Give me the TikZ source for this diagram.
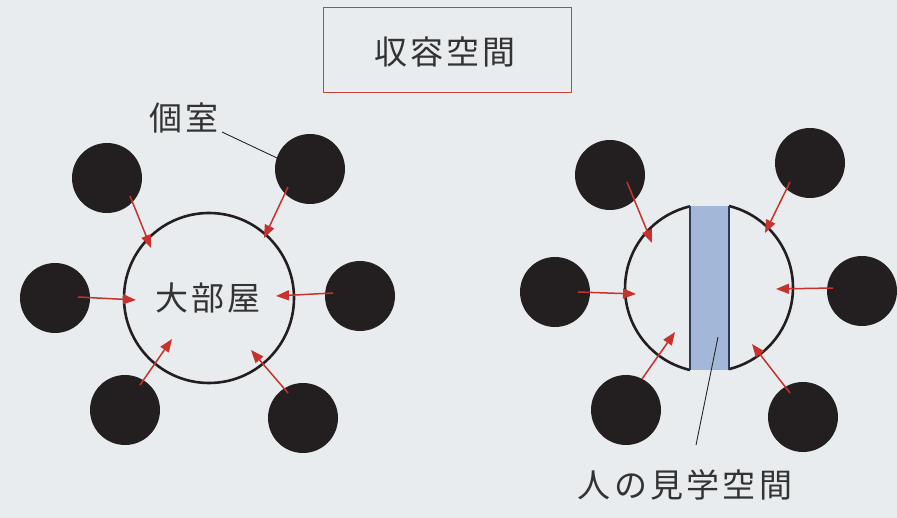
\documentclass[tikz,border=0pt]{standalone}
\usepackage{fontspec}
\newfontfamily\jpfont[LetterSpace=10]{Noto Sans CJK JP}
\usetikzlibrary{arrows.meta}
\definecolor{bg}{HTML}{E8ECEE}
\definecolor{dot}{HTML}{231F20}
\definecolor{arr}{HTML}{C8322C}
\definecolor{frame}{HTML}{C8403A}
\definecolor{band}{HTML}{A3B8D8}
\definecolor{bandedge}{HTML}{2A3A5A}
\begin{document}
\begin{tikzpicture}[x=1pt,y=-1pt,
  room/.style={circle,fill=dot,draw=none,minimum size=70pt,inner sep=0pt},
  push/.style={draw=arr,line width=1.5pt,-{Triangle[length=13pt,width=10pt]}},
  lbl/.style={font=\jpfont\fontsize{33}{36}\selectfont,text=black!80,inner sep=0pt},
  leader/.style={draw=black!85,line width=0.9pt}]
\useasboundingbox[fill=bg] (0,0) rectangle (897,518);
% title
\node[draw=frame,line width=1pt,minimum width=248pt,minimum height=85pt] (title) at (447,50.5) {};
\node[lbl] (ttext) at (445,52) {収容空間};
% left group
\draw[dot,line width=2.6pt] (209,298) circle[radius=85];
\node[lbl] (big) at (208,298) {大部屋};
\node[room] (a1) at (107,178) {};
\node[room] (a2) at (310,169) {};
\node[room] (a3) at (55,298) {};
\node[room] (a4) at (360,296) {};
\node[room] (a5) at (125,410) {};
\node[room] (a6) at (303,418) {};
\coordinate (as1) at (130,196); \coordinate (at1) at (151,248);
\coordinate (as2) at (288,187); \coordinate (at2) at (264,238);
\coordinate (as3) at (78,297);  \coordinate (at3) at (136,300);
\coordinate (as4) at (333,293); \coordinate (at4) at (276,296);
\coordinate (as5) at (140,385); \coordinate (at5) at (172,339);
\coordinate (as6) at (288,393); \coordinate (at6) at (251,350);
\foreach \i in {1,...,6} \draw[push] (as\i) -- (at\i);
\node[lbl] (kosh) at (184,118) {個室};
\coordinate (kl) at (277,158);
\draw[leader] (222,132) -- (kl);
% right group
\fill[band] (690,206) rectangle (729,370);
\draw[dot,line width=2.6pt] (690,370) arc[start angle=103.1,end angle=256.9,radius=84];
\draw[dot,line width=2.6pt] (729,206) arc[start angle=-76.2,end angle=76.2,radius=84];
\draw[bandedge,line width=2pt] (690,206) -- (690,370);
\draw[bandedge,line width=2pt] (729,206) -- (729,370);
\node[room] (b1) at (610,175) {};
\node[room] (b2) at (810,163) {};
\node[room] (b3) at (555,292) {};
\node[room] (b4) at (862,291) {};
\node[room] (b5) at (626,410) {};
\node[room] (b6) at (803,417) {};
\coordinate (bs1) at (627,182); \coordinate (bt1) at (652,243);
\coordinate (bs2) at (790,182); \coordinate (bt2) at (765,233);
\coordinate (bs3) at (578,292); \coordinate (bt3) at (636,294);
\coordinate (bs4) at (833,288); \coordinate (bt4) at (776,289);
\coordinate (bs5) at (642,379); \coordinate (bt5) at (675,332);
\coordinate (bs6) at (790,393); \coordinate (bt6) at (752,344);
\foreach \i in {1,...,6} \draw[push] (bs\i) -- (bt\i);
\node[lbl] (visit) at (685,485) {人の見学空間};
\coordinate (vl) at (718,337);
\draw[leader] (696,445) -- (vl);
\end{tikzpicture}
\end{document}
